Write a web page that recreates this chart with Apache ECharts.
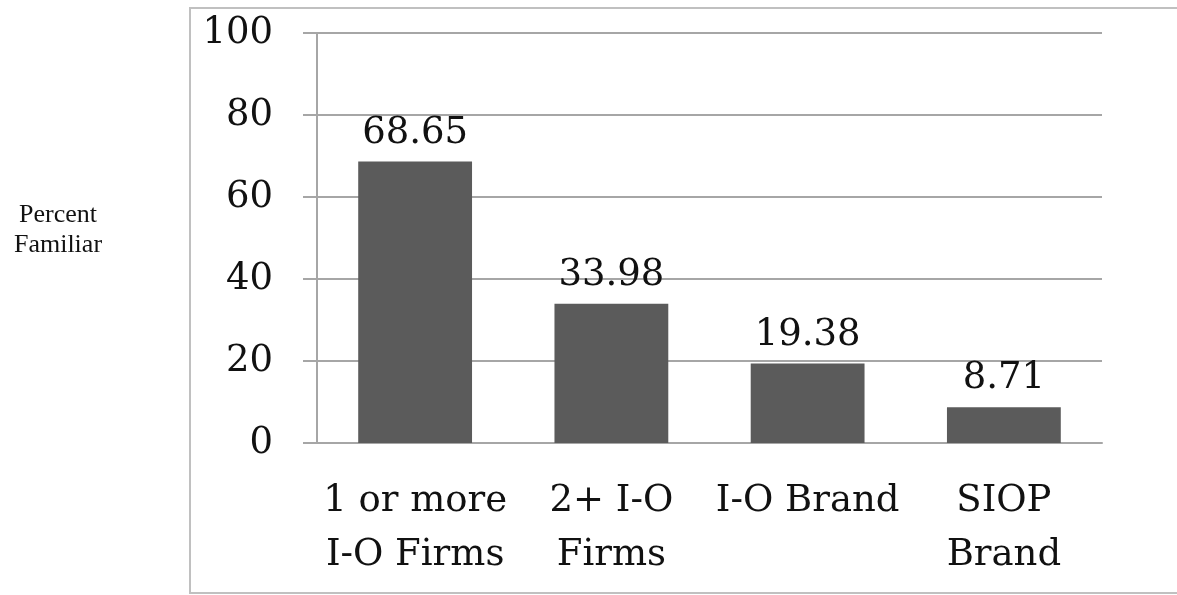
<!DOCTYPE html>
<html>
<head>
<meta charset="utf-8">
<script src="https://cdn.jsdelivr.net/npm/echarts@6/dist/echarts.min.js"></script>
<style>
  html, body { margin: 0; padding: 0; background: #fff; }
  #chart { width: 1177px; height: 595px; }
</style>
</head>
<body>
<div id="chart"></div>
<script>
var categorias = ['1 or more\nI-O Firms', '2+ I-O\nFirms', 'I-O Brand', 'SIOP\nBrand'];
var valores = [68.65, 33.98, 19.38, 8.71];
var ticksY = [0, 20, 40, 60, 80, 100];

var fuente = 'DejaVu Serif';
var gris = '#a6a6a6';

var chart = echarts.init(document.getElementById('chart'));

chart.setOption({
    animation: false,
    grid: {
        left: 317,
        right: 75,
        top: 33,
        bottom: 152
    },
    graphic: [{
        type: 'rect',
        shape: { x: 190, y: 8, width: 1000, height: 585 },
        style: { fill: 'none', stroke: '#c0c0c0', lineWidth: 2 }
    }, {
        type: 'text',
        x: 58,
        y: 200,
        style: {
            text: 'Percent\nFamiliar',
            font: '26px "Liberation Serif"',
            fill: '#111',
            align: 'center',
            lineHeight: 30
        }
    }],
    xAxis: {
        type: 'category',
        data: categorias,
        axisLine: { lineStyle: { color: gris, width: 2 } },
        axisTick: { show: false },
        axisLabel: {
            fontFamily: fuente,
            fontSize: 37,
            color: '#111',
            lineHeight: 54,
            margin: 31,
            interval: 0
        }
    },
    yAxis: {
        type: 'value',
        min: ticksY[0],
        max: ticksY[ticksY.length - 1],
        interval: 20,
        axisLine: { show: true, lineStyle: { color: gris, width: 2 } },
        axisTick: { show: true, length: 14, lineStyle: { color: gris, width: 2 } },
        splitLine: { lineStyle: { color: gris, width: 2 } },
        axisLabel: {
            fontFamily: fuente,
            fontSize: 37,
            color: '#111',
            margin: 44
        }
    },
    series: [{
        type: 'bar',
        data: valores,
        barWidth: '58%',
        itemStyle: { color: '#5b5b5b' },
        label: {
            show: true,
            position: 'top',
            distance: 10,
            fontFamily: fuente,
            fontSize: 37,
            color: '#111'
        }
    }]
});
</script>
</body>
</html>
